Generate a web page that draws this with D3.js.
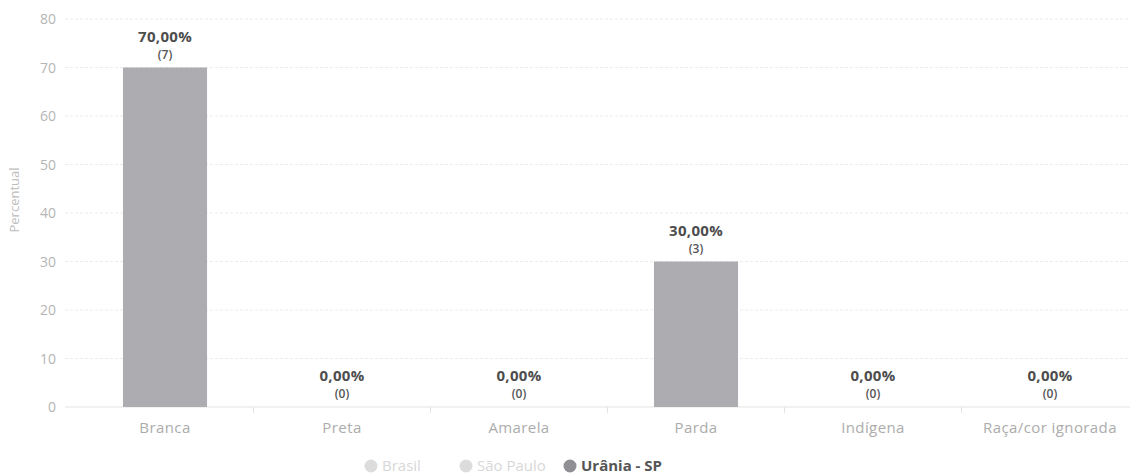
<!DOCTYPE html>
<html><head><meta charset="utf-8">
<script src="https://cdn.jsdelivr.net/npm/d3@7"></script>
<style>
html,body{margin:0;padding:0;background:#fff;}
svg{font-family:"Open Sans","Noto Sans",sans-serif;}
</style></head>
<body>
<svg id="c" width="1130" height="476"></svg>
<script>
const categories = ["Branca","Preta","Amarela","Parda","Indígena","Raça/cor ignorada"];
const percentValues = [70, 0, 0, 30, 0, 0];
const countValues = [7, 0, 0, 3, 0, 0];
const yTicks = [0,10,20,30,40,50,60,70,80];
const legendItems = ["Brasil","São Paulo","Urânia - SP"];
const legendActive = [false,false,true];

const svg = d3.select("#c");
const bandLeft = 76.5, bandRight = 76.5 + 177*6;
const gridLeft = 65, gridRight = 1130;
const y = d3.scaleLinear().domain([0,80]).range([407,19]);
const x = d3.scaleBand().domain(categories).range([bandLeft,bandRight]).paddingInner(0.525).paddingOuter(0.2625);

// grid
svg.append("g").selectAll("line").data(yTicks).join("line")
  .attr("x1",gridLeft).attr("x2",gridRight)
  .attr("y1",d=>y(d)).attr("y2",d=>y(d))
  .attr("stroke",d=>d===0?"#dfe6e0":"#ececec").attr("stroke-width",1)
  .attr("stroke-dasharray",d=>d===0?null:"3,2");

// y labels
svg.append("g").selectAll("text").data(yTicks).join("text")
  .attr("x",56).attr("y",d=>y(d)+5).attr("text-anchor","end")
  .attr("font-size",14).attr("fill","#b5b5b5").text(d=>d);

svg.append("text").attr("transform",`translate(19,200) rotate(-90)`)
  .attr("text-anchor","middle").attr("font-size",13).attr("fill","#bdbdbd").text("Percentual");

// x ticks at band boundaries
const bw = (bandRight-bandLeft)/categories.length;
svg.append("g").selectAll("line").data(d3.range(1,categories.length)).join("line")
  .attr("x1",d=>bandLeft+d*bw).attr("x2",d=>bandLeft+d*bw)
  .attr("y1",y(0)).attr("y2",y(0)+6).attr("stroke","#e3e3e3");

// bars
svg.append("g").selectAll("rect").data(categories).join("rect")
  .attr("x",d=>x(d)).attr("width",x.bandwidth())
  .attr("y",(d,i)=>y(percentValues[i])).attr("height",(d,i)=>y(0)-y(percentValues[i]))
  .attr("fill","#acacb1");

// data labels
const lab = svg.append("g");
categories.forEach((c,i)=>{
  const cx = x(c)+x.bandwidth()/2, top = y(percentValues[i]);
  lab.append("text").attr("x",cx).attr("y",top-26).attr("text-anchor","middle")
    .attr("font-size",15).attr("font-weight","bold").attr("fill","#4d4d4d")
    .attr("letter-spacing",0.3)
    .text(percentValues[i].toFixed(2).replace(".",",")+"%");
  lab.append("text").attr("x",cx).attr("y",top-9).attr("text-anchor","middle")
    .attr("font-size",12).attr("font-weight",600).attr("fill","#555").text("("+countValues[i]+")");
});

// x labels
svg.append("g").selectAll("text").data(categories).join("text")
  .attr("x",d=>x(d)+x.bandwidth()/2).attr("y",433).attr("text-anchor","middle")
  .attr("font-size",15).attr("letter-spacing",0.4).attr("fill","#acacac").text(d=>d);

// legend
const lg = svg.append("g");
const positions = [371, 466, 570];
legendItems.forEach((t,i)=>{
  const on = legendActive[i];
  lg.append("circle").attr("cx",positions[i]).attr("cy",466).attr("r",6.5)
    .attr("fill",on?"#8f8f94":"#dcdcdc");
  lg.append("text").attr("x",positions[i]+11).attr("y",471)
    .attr("font-size",15).attr("font-weight",on?"bold":"normal")
    .attr("fill",on?"#555":"#d8d8d8").text(t);
});
</script>
</body></html>
